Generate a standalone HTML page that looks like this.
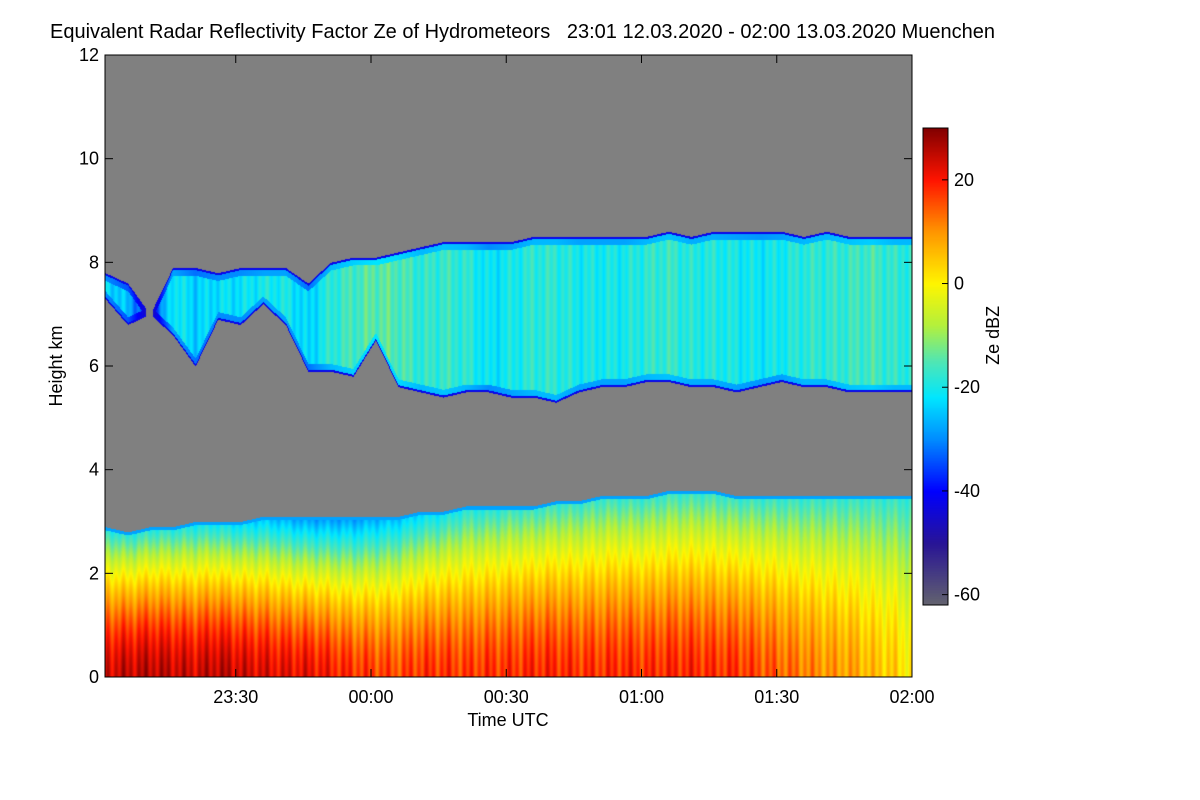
<!DOCTYPE html>
<html><head><meta charset="utf-8">
<style>
body{margin:0;background:#fff;}
#wrap{position:relative;width:1200px;height:800px;font-family:"Liberation Sans",sans-serif;color:#000;}
.t{position:absolute;font-size:20px;white-space:nowrap;}
</style></head>
<body>
<div id="wrap">
<div class="t" style="left:50px;top:21px;">Equivalent Radar Reflectivity Factor Ze of Hydrometeors &nbsp; 23:01 12.03.2020 - 02:00 13.03.2020 Muenchen</div>
<canvas id="cv" width="1200" height="800" style="position:absolute;left:0;top:0"></canvas>
<svg id="ax" width="1200" height="800" style="position:absolute;left:0;top:0"></svg>
</div>
<script>
// time samples in minutes after 23:01
const times=[0,5,10,15,20,25,30,35,40,45,50,55,60,65,70,75,80,85,90,95,100,105,110,115,120,125,130,135,140,145,150,155,160,165,170,175,179];
// upper layer (km), dBZ
const upTop =[7.8,7.6,7.0,7.9,7.9,7.8,7.9,7.9,7.9,7.6,8.0,8.1,8.1,8.2,8.3,8.4,8.4,8.4,8.4,8.5,8.5,8.5,8.5,8.5,8.5,8.6,8.5,8.6,8.6,8.6,8.6,8.5,8.6,8.5,8.5,8.5,8.5];
const upBase=[7.3,6.8,7.0,6.6,6.0,6.9,6.8,7.2,6.8,5.9,5.9,5.8,6.5,5.6,5.5,5.4,5.5,5.5,5.4,5.4,5.3,5.5,5.6,5.6,5.7,5.7,5.6,5.6,5.5,5.6,5.7,5.6,5.6,5.5,5.5,5.5,5.5];
const upZe  =[-22,-26,-40,-20,-24,-22,-22,-20,-20,-24,-18,-16,-14,-15,-18,-17,-18,-22,-20,-18,-18,-20,-20,-20,-18,-17,-19,-19,-20,-21,-20,-18,-18,-17,-16,-18,-18];
// lower layer top (km) and near-ground dBZ
const lowTop=[2.9,2.8,2.9,2.9,3.0,3.0,3.0,3.1,3.1,3.1,3.1,3.1,3.1,3.1,3.2,3.2,3.3,3.3,3.3,3.3,3.4,3.4,3.5,3.5,3.5,3.6,3.6,3.6,3.5,3.5,3.5,3.5,3.5,3.5,3.5,3.5,3.5];
const lowZe =[24,25,26,25,24,26,24,23,22,22,20,18,17,16,18,18,17,18,18,19,19,18,18,19,18,19,19,18,18,16,14,12,10,9,6,4,0];
// dBZ near layer top (blue/cyan for the drier segment around midnight)
const lowTopZe=[-20,-20,-20,-20,-22,-22,-24,-26,-28,-30,-30,-30,-28,-26,-24,-22,-20,-20,-18,-18,-18,-18,-18,-18,-18,-18,-18,-18,-18,-18,-18,-18,-18,-18,-18,-18,-18];
const yTicks=[0,2,4,6,8,10,12];
const xTickMin=[29,59,89,119,149,179];
const xTickLab=["23:30","00:00","00:30","01:00","01:30","02:00"];
const cbTicks=[-60,-40,-20,0,20];

const X0=105,X1=912,Y0=677,Y1=55;
const xs=m=>X0+(X1-X0)*m/179;
const ys=h=>Y0-(Y0-Y1)*h/12;
const CB={x:923,w:25,top:128,bot:605,min:-62,max:30};
const cby=v=>CB.bot-(CB.bot-CB.top)*(v-CB.min)/(CB.max-CB.min);

const stops=[[-62,[100,100,110]],[-50,[40,20,150]],[-40,[0,0,255]],[-30,[0,140,255]],[-22,[0,230,255]],[-15,[80,230,180]],[-8,[180,240,60]],[0,[255,245,0]],[10,[255,150,0]],[20,[255,20,0]],[30,[130,0,0]]];
function col(v){
  if(v<=stops[0][0])return stops[0][1];
  for(let i=1;i<stops.length;i++){if(v<=stops[i][0]){const a=stops[i-1],b=stops[i],t=(v-a[0])/(b[0]-a[0]);return a[1].map((c,k)=>Math.round(c+(b[1][k]-c)*t));}}
  return stops[stops.length-1][1];
}
function interp(arr,m){
  for(let i=1;i<times.length;i++){if(m<=times[i]){const t=(m-times[i-1])/(times[i]-times[i-1]);return arr[i-1]+(arr[i]-arr[i-1])*t;}}
  return arr[arr.length-1];
}
const cv=document.getElementById('cv'),ctx=cv.getContext('2d');
ctx.fillStyle='#808080';ctx.fillRect(X0,Y1,X1-X0,Y0-Y1);
for(let px=X0;px<X1;px++){
  const m=(px-X0)/(X1-X0)*179;
  const ut=interp(upTop,m),ub=interp(upBase,m),uz=interp(upZe,m);
  const lt=interp(lowTop,m),lz=interp(lowZe,m),ltz=interp(lowTopZe,m);
  const tex=3*Math.sin(px*0.83)+2*Math.sin(px*0.31+1);
  for(let py=Y1;py<Y0;py++){
    const h=(Y0-py)/(Y0-Y1)*12;let v=null;
    if(ut-ub>0.15&&h<=ut&&h>=ub){
      const f=Math.min(h-ub,ut-h);
      v=f<0.04?-42:(f<0.15?uz-8:uz+tex*0.7);
    }else if(h<=lt){
      const f=h/lt;
      v=lz+(ltz-lz)*Math.pow(f,1.6)+tex*(1-f*0.5);
      if(lt-h<0.06)v=-28;
    }
    if(v!==null){const c=col(v);ctx.fillStyle=`rgb(${c[0]},${c[1]},${c[2]})`;ctx.fillRect(px,py,1,1);}
  }
}
// colorbar
for(let py=CB.top;py<CB.bot;py++){const v=CB.min+(CB.bot-py)/(CB.bot-CB.top)*(CB.max-CB.min);const c=col(v);ctx.fillStyle=`rgb(${c[0]},${c[1]},${c[2]})`;ctx.fillRect(CB.x,py,CB.w,1);}

const svg=document.getElementById('ax');const NS='http://www.w3.org/2000/svg';
function mk(tag,attrs,name,txt){const e=document.createElementNS(NS,tag);for(const k in attrs)e.setAttribute(k,attrs[k]);


if(txt!==undefined)e.textContent=txt;svg.appendChild(e);return e;}
mk('rect',{x:X0,y:Y1,width:X1-X0,height:Y0-Y1,fill:'none',stroke:'#000','stroke-width':1},'plot-frame');
yTicks.forEach(v=>{const y=ys(v);
 mk('line',{x1:X0,x2:X0+8,y1:y,y2:y,stroke:'#000'},'y-tick');
 mk('line',{x1:X1-8,x2:X1,y1:y,y2:y,stroke:'#000'},'y-tick');
 mk('text',{x:X0-6,y:y+6,'text-anchor':'end','font-size':18,'font-family':'Liberation Sans'},'y-tick-label',String(v));});
xTickMin.forEach((m,i)=>{const x=xs(m);
 mk('line',{x1:x,x2:x,y1:Y0,y2:Y0-8,stroke:'#000'},'x-tick');
 mk('line',{x1:x,x2:x,y1:Y1,y2:Y1+8,stroke:'#000'},'x-tick');
 mk('text',{x:x,y:Y0+26,'text-anchor':'middle','font-size':18,'font-family':'Liberation Sans'},'x-tick-label',xTickLab[i]);});
mk('text',{x:508,y:726,'text-anchor':'middle','font-size':18,'font-family':'Liberation Sans'},'x-axis-title','Time UTC');
mk('text',{x:0,y:0,'text-anchor':'middle','font-size':18,'font-family':'Liberation Sans',transform:`translate(62,${ys(6)}) rotate(-90)`},'y-axis-title','Height km');
mk('rect',{x:CB.x,y:CB.top,width:CB.w,height:CB.bot-CB.top,fill:'none',stroke:'#000'},'colorbar');
cbTicks.forEach(v=>{const y=cby(v);
 mk('line',{x1:CB.x+CB.w-6,x2:CB.x+CB.w,y1:y,y2:y,stroke:'#000'},'colorbar-tick');
 mk('text',{x:CB.x+CB.w+6,y:y+6,'font-size':18,'font-family':'Liberation Sans'},'colorbar-tick-label',String(v));});
mk('text',{x:0,y:0,'text-anchor':'middle','font-size':18,'font-family':'Liberation Sans',transform:`translate(999,${cby(-10)}) rotate(-90)`},'colorbar-title','Ze dBZ');
</script>
</body></html>
